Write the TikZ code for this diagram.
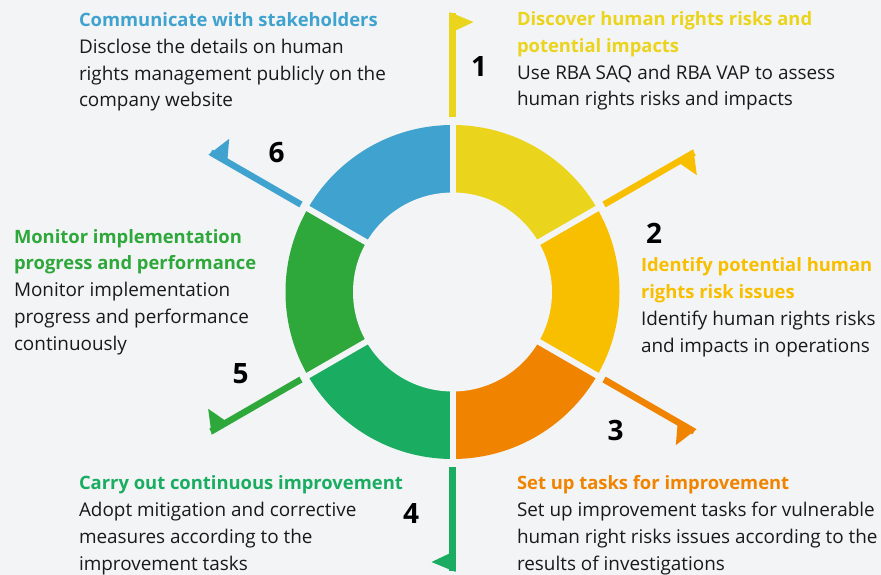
\documentclass[tikz,border=0pt]{standalone}
\usepackage{fontspec}
\setmainfont{Open Sans}
\definecolor{bg}{HTML}{F3F4F6}
\definecolor{cyel}{HTML}{EBD41C}
\definecolor{camb}{HTML}{F8BF00}
\definecolor{cora}{HTML}{F08400}
\definecolor{cteal}{HTML}{1AAD62}
\definecolor{cgrn}{HTML}{2EA83A}
\definecolor{cblu}{HTML}{3FA2CF}
\definecolor{ctxt}{HTML}{1A1A1A}
\newcommand{\steptitle}[2]{\textcolor{#1}{\fontsize{18.4}{26.7}\selectfont\bfseries #2}}
\begin{document}
\begin{tikzpicture}[x=1pt,y=-1pt,
  txt/.style={anchor=base west, inner sep=0pt, outer sep=0pt, align=left, text=ctxt,
    font=\fontsize{18.9}{26.7}\selectfont},
  num/.style={anchor=base, inner sep=0pt, text=black, font=\fontsize{28}{28}\selectfont\bfseries},
  gapline/.style={draw=bg, line width=6pt},
  ray/.style={line width=6.5pt}]
\fill[bg] (0,0) rectangle (881,575);
\useasboundingbox (0,0) rectangle (881,575);
\coordinate (c) at (452.5,292);
% ring segments
\begin{scope}
  \clip (c) circle[radius=167pt];
  \foreach \a/\col in {-90/cyel, -30/camb, 30/cora, 90/cteal, 150/cgrn, 210/cblu}
    \fill[\col] (c) -- +(\a:250) -- +(\a+30:250) -- +(\a+60:250) -- cycle;
\end{scope}
\fill[bg] (c) circle[radius=99.5pt];
\foreach \a in {-90,-30,30,90,150,210}
  \draw[gapline] (c) -- +(\a:180);
% rays with flags
\foreach \a/\col/\n in {-90/cyel/1, -30/camb/2, 30/cora/3, 90/cteal/4, 150/cgrn/5, 210/cblu/6}{
  \path (c) ++(\a:175) coordinate (s\n);
  \path (c) ++(\a:279) coordinate (e\n);
  \path (c) ++(\a:280) ++(\a+90:-3.2) coordinate (fa\n);
  \path (c) ++(\a:261) ++(\a+90:2) coordinate (fb\n);
  \path (c) ++(\a:270) ++(\a+90:21) coordinate (fc\n);
  \draw[ray,\col] (s\n) -- (e\n);
  \fill[\col] (fa\n) -- (fc\n) -- (fb\n) -- cycle;
}
% numbers
\node[num] (n1) at (479,77) {1};
\node[num] (n2) at (654,243) {2};
\node[num] (n3) at (615.5,440) {3};
\node[num] (n4) at (411,523) {4};
\node[num] (n5) at (240.5,383) {5};
\node[num] (n6) at (276.5,163) {6};
% texts (anchored at the baseline of the last line)
\node[txt] (t1) at (517,106) {\steptitle{cyel}{Discover human rights risks and}\\
  \steptitle{cyel}{potential impacts}\\
  Use RBA SAQ and RBA VAP to assess\\
  human rights risks and impacts};
\node[txt] (t2) at (641,352) {\steptitle{camb}{Identify potential human}\\
  \steptitle{camb}{rights risk issues}\\
  Identify human rights risks\\
  and impacts in operations};
\node[txt] (t3) at (517,570) {\steptitle{cora}{Set up tasks for improvement}\\
  Set up improvement tasks for vulnerable\\
  human right risks issues according to the\\
  results of investigations};
\node[txt] (t4) at (79,570) {\steptitle{cteal}{Carry out continuous improvement}\\
  Adopt mitigation and corrective\\
  measures according to the\\
  improvement tasks};
\node[txt] (t5) at (14,350) {\steptitle{cgrn}{Monitor implementation}\\
  \steptitle{cgrn}{progress and performance}\\
  Monitor implementation\\
  progress and performance\\
  continuously};
\node[txt] (t6) at (79,107) {\steptitle{cblu}{Communicate with stakeholders}\\
  Disclose the details on human\\
  rights management publicly on the\\
  company website};
\end{tikzpicture}
\end{document}
